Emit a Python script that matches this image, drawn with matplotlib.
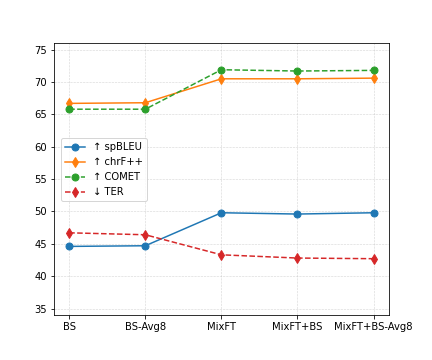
import matplotlib
matplotlib.use('Agg')
import matplotlib.pyplot as plt

systems = ['BS', 'BS-Avg8', 'MixFT', 'MixFT+BS', 'MixFT+BS-Avg8']
spbleu = [44.6, 44.7, 49.8, 49.6, 49.8]
chrf = [66.7, 66.8, 70.5, 70.5, 70.6]
comet = [65.8, 65.8, 71.9, 71.7, 71.8]
ter = [46.7, 46.4, 43.3, 42.8, 42.7]

fig, ax = plt.subplots(figsize=(6, 5), dpi=72)
fig.subplots_adjust(left=0.125, right=0.9, bottom=0.125, top=0.88)
x = range(len(systems))
ax.plot(x, spbleu, marker='o', ms=7, linestyle='-', color='tab:blue', label='↑ spBLEU')
ax.plot(x, chrf, marker='d', ms=7, linestyle='-', color='tab:orange', label='↑ chrF++')
ax.plot(x, comet, marker='o', ms=7, linestyle='--', color='tab:green', label='↑ COMET')
ax.plot(x, ter, marker='d', ms=7, linestyle='--', color='tab:red', label='↓ TER')

ax.set_xticks(list(x))
ax.set_xticklabels(systems)
ax.set_ylim(34, 76)
ax.set_yticks([35, 40, 45, 50, 55, 60, 65, 70, 75])
ax.grid(True, linestyle='--', linewidth=0.6, alpha=0.5)
ax.legend(loc='center left', bbox_to_anchor=(0.005, 0.535))

fig.savefig('out.png', dpi=72)
